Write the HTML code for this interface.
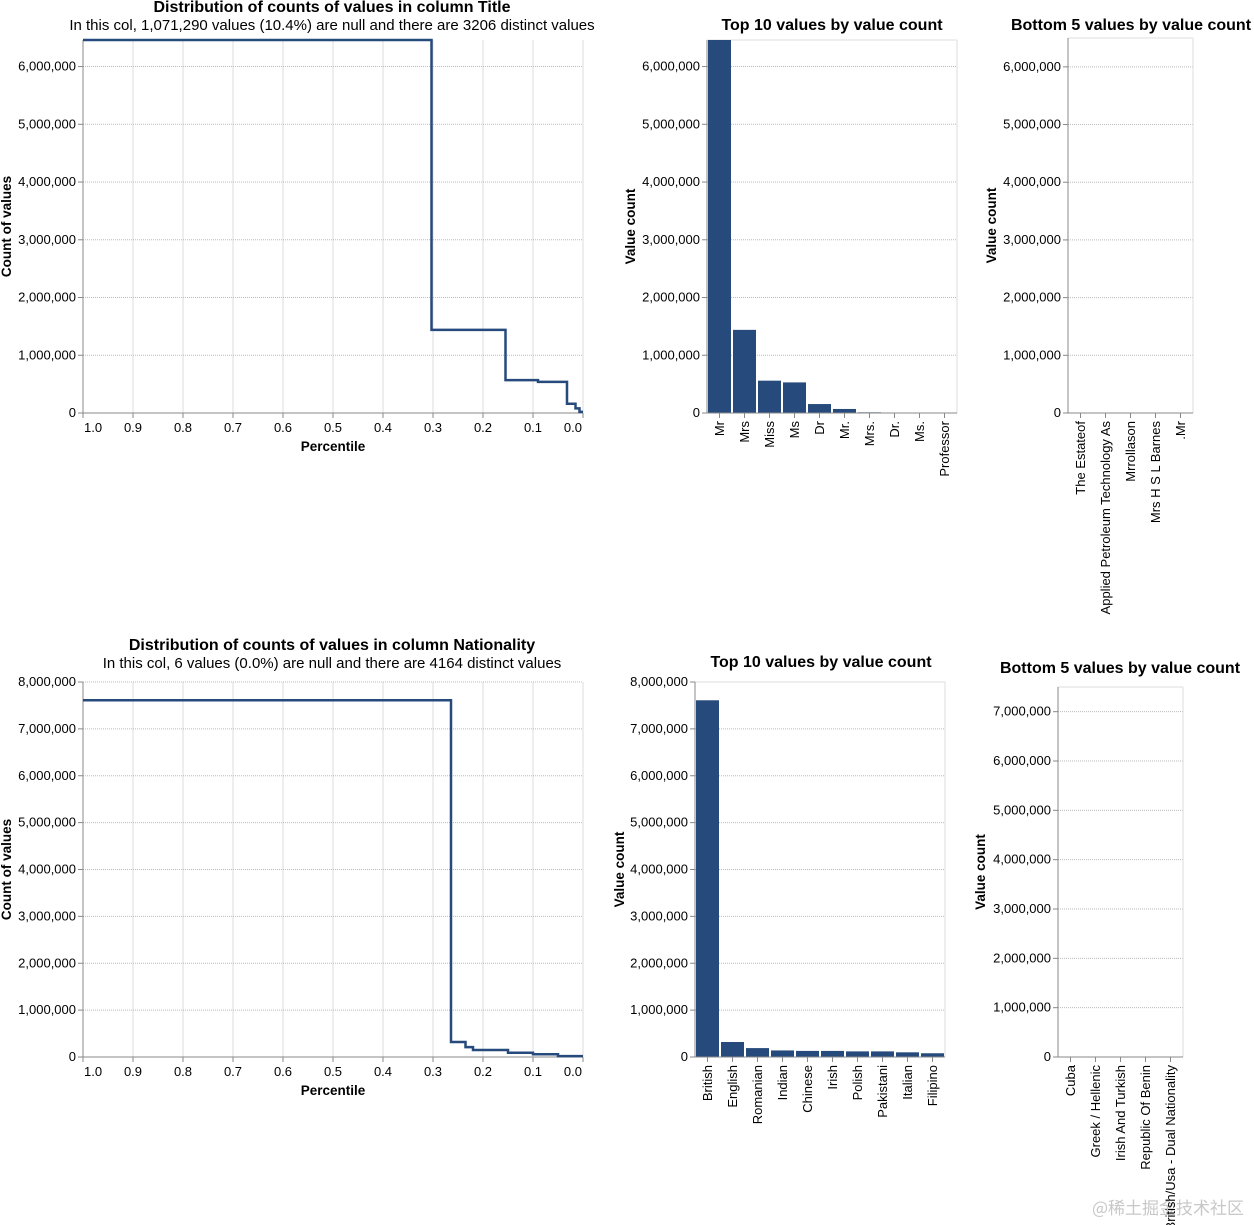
<!DOCTYPE html>
<html><head><meta charset="utf-8">
<style>
html,body{margin:0;padding:0;background:#fff;}
svg{display:block;font-family:"Liberation Sans",Arial,sans-serif;}
.tick{font-size:13px;fill:#000;}
.ttl{font-size:16px;font-weight:bold;fill:#000;}
.sub{font-size:15px;fill:#000;}
.ax{font-size:13.5px;font-weight:bold;fill:#000;}
</style></head>
<body>
<svg id="chart" width="1254" height="1225" xmlns="http://www.w3.org/2000/svg">
<text x="1168" y="1214" text-anchor="middle" style="font-family:'Noto Sans CJK SC',sans-serif;font-size:17px;fill:#c8c8c8">@稀土掘金技术社区</text>
</svg>
<script>
// ---- data ----
const titleStepP = [1.0, 0.303, 0.155, 0.09, 0.032, 0.015, 0.007, 0.0];
const titleStepV = [6460000, 1440000, 570000, 540000, 160000, 80000, 20000, 20000];
const natStepP = [1.0, 0.264, 0.235, 0.22, 0.15, 0.1, 0.05, 0.0];
const natStepV = [7610000, 320000, 210000, 150000, 90000, 60000, 20000, 20000];
const titleTopCats = ["Mr","Mrs","Miss","Ms","Dr","Mr.","Mrs.","Dr.","Ms.","Professor"];
const titleTopVals = [6460000,1440000,560000,530000,155000,70000,12000,6000,6000,2000];
const titleBotCats = ["The Estateof","Applied Petroleum Technology As","Mrrollason","Mrs H S L Barnes",".Mr"];
const titleBotVals = [1,1,1,1,1];
const natTopCats = ["British","English","Romanian","Indian","Chinese","Irish","Polish","Pakistani","Italian","Filipino"];
const natTopVals = [7610000,320000,190000,140000,130000,130000,120000,120000,100000,80000];
const natBotCats = ["Cuba","Greek / Hellenic","Irish And Turkish","Republic Of Benin","British/Usa - Dual Nationality"];
const natBotVals = [1,1,1,1,1];
const pctTicks = [1.0,0.9,0.8,0.7,0.6,0.5,0.4,0.3,0.2,0.1,0.0];

const NS="http://www.w3.org/2000/svg";
const svg=document.getElementById('chart');
function el(tag,attrs,parent,text){const e=document.createElementNS(NS,tag);for(const k in attrs)e.setAttribute(k,attrs[k]);if(text!==undefined)e.textContent=text;(parent||svg).appendChild(e);return e;}
const fmt=v=>v.toLocaleString('en-US');
const BLUE="#264a7c";

function yAxis(g,x0,x1,yS,ticks){
  ticks.forEach(t=>{
    const y=yS(t);
    const gl=el('line',{x1:x0,x2:x1,y1:y,y2:y,stroke:'#bbb','stroke-dasharray':'1,1'},g);
    
    
    el('line',{x1:x0-5,x2:x0,y1:y,y2:y,stroke:'#888'},g);
    const tl=el('text',{x:x0-7,y:y+4,'text-anchor':'end',class:'tick'},g,fmt(t));
    
    
  });
}
function yTitle(g,x,y,txt){
  const t=el('text',{x:0,y:0,class:'ax','text-anchor':'middle',transform:`translate(${x},${y}) rotate(-90)`},g,txt);
  
  
}

function stepChart(name,x0,x1,yTop,yBot,ymax,tickMax,P,V,title,sub,titleY){
  const g=el('g',{});
  
  
  const xS=p=>x1-p*(x1-x0);
  const yS=v=>yBot-v/ymax*(yBot-yTop);
  pctTicks.forEach(p=>{const x=xS(p);el('line',{x1:x,x2:x,y1:yTop,y2:yBot,stroke:'#ddd'},g);});
  const ticks=[];for(let t=0;t<=tickMax;t+=1000000)ticks.push(t);
  yAxis(g,x0,x1,yS,ticks);
  el('line',{x1:x1,x2:x1,y1:yTop,y2:yBot,stroke:'#ddd'},g);
  el('line',{x1:x0,x2:x0,y1:yTop,y2:yBot,stroke:'#888'},g);
  el('line',{x1:x0,x2:x1,y1:yBot,y2:yBot,stroke:'#888'},g);
  pctTicks.forEach(p=>{const x=xS(p);el('line',{x1:x,x2:x,y1:yBot,y2:yBot+5,stroke:'#888'},g);
    let anchor='middle',tx=x;if(p===1.0){anchor='start';tx=x+1;}if(p===0){anchor='end';tx=x-1;}
    const t=el('text',{x:tx,y:yBot+19,'text-anchor':anchor,class:'tick'},g,p.toFixed(1));
    
    });
  let d='';
  for(let i=0;i<P.length-1;i++){
    const xa=xS(P[i]),xb=xS(P[i+1]),y=yS(V[i]);
    d+=(i===0?`M${xa},${y}`:`L${xa},${y}`)+`L${xb},${y}`;
  }
  const path=el('path',{d:d,fill:'none',stroke:BLUE,'stroke-width':2.5},g);
  
  
  const xt=el('text',{x:(x0+x1)/2,y:yBot+38,'text-anchor':'middle',class:'ax'},g,'Percentile');
  
  
  yTitle(g,11,(yTop+yBot)/2,'Count of values');
  const tt=el('text',{x:(x0+x1)/2-1,y:titleY,'text-anchor':'middle',class:'ttl'},g,title);
  
  
  const st=el('text',{x:(x0+x1)/2-1,y:titleY+18,'text-anchor':'middle',class:'sub'},g,sub);
  
  
}

function barChart(name,x0,x1,yTop,yBot,ymax,tickMax,cats,vals,title,titleY,ytX,titleX){
  const g=el('g',{});
  
  
  const bw=(x1-x0)/cats.length;
  const yS=v=>yBot-v/ymax*(yBot-yTop);
  const ticks=[];for(let t=0;t<=tickMax;t+=1000000)ticks.push(t);
  yAxis(g,x0,x1,yS,ticks);
  el('line',{x1:x1,x2:x1,y1:yTop,y2:yBot,stroke:'#ddd'},g);
  el('line',{x1:x0,x2:x1,y1:yTop,y2:yTop,stroke:'#ddd'},g);
  cats.forEach((c,i)=>{
    const y=yS(vals[i]);
    const r=el('rect',{x:x0+i*bw+1,y:y,width:bw-2,height:Math.max(0,yBot-y),fill:BLUE},g);
    
    
    const cx=x0+i*bw+bw/2;
    el('line',{x1:cx,x2:cx,y1:yBot,y2:yBot+5,stroke:'#888'},g);
    const t=el('text',{x:0,y:0,'text-anchor':'end',class:'tick',transform:`translate(${cx+4.5},${yBot+8}) rotate(-90)`},g,c);
    
    
  });
  el('line',{x1:x0,x2:x0,y1:yTop,y2:yBot,stroke:'#888'},g);
  el('line',{x1:x0,x2:x1,y1:yBot,y2:yBot,stroke:'#888'},g);
  yTitle(g,ytX,(yTop+yBot)/2,'Value count');
  const tt=el('text',{x:titleX,y:titleY,'text-anchor':'middle',class:'ttl'},g,title);
  
  
}

stepChart('title-distribution-chart',83,583,40,413,6460000,6000000,titleStepP,titleStepV,
  'Distribution of counts of values in column Title',
  'In this col, 1,071,290 values (10.4%) are null and there are 3206 distinct values',12);
barChart('title-top10-chart',707,957,40,413,6460000,6000000,titleTopCats,titleTopVals,'Top 10 values by value count',30,635,832);
barChart('title-bottom5-chart',1068,1193,38,413,6500000,6000000,titleBotCats,titleBotVals,'Bottom 5 values by value count',30,996,1131);

stepChart('nationality-distribution-chart',83,583,682,1057,8000000,8000000,natStepP,natStepV,
  'Distribution of counts of values in column Nationality',
  'In this col, 6 values (0.0%) are null and there are 4164 distinct values',650);
barChart('nationality-top10-chart',695,945,682,1057,8000000,8000000,natTopCats,natTopVals,'Top 10 values by value count',667,624,821);
barChart('nationality-bottom5-chart',1058,1183,687,1057,7500000,7000000,natBotCats,natBotVals,'Bottom 5 values by value count',673,985,1120);
</script>
</body></html>
